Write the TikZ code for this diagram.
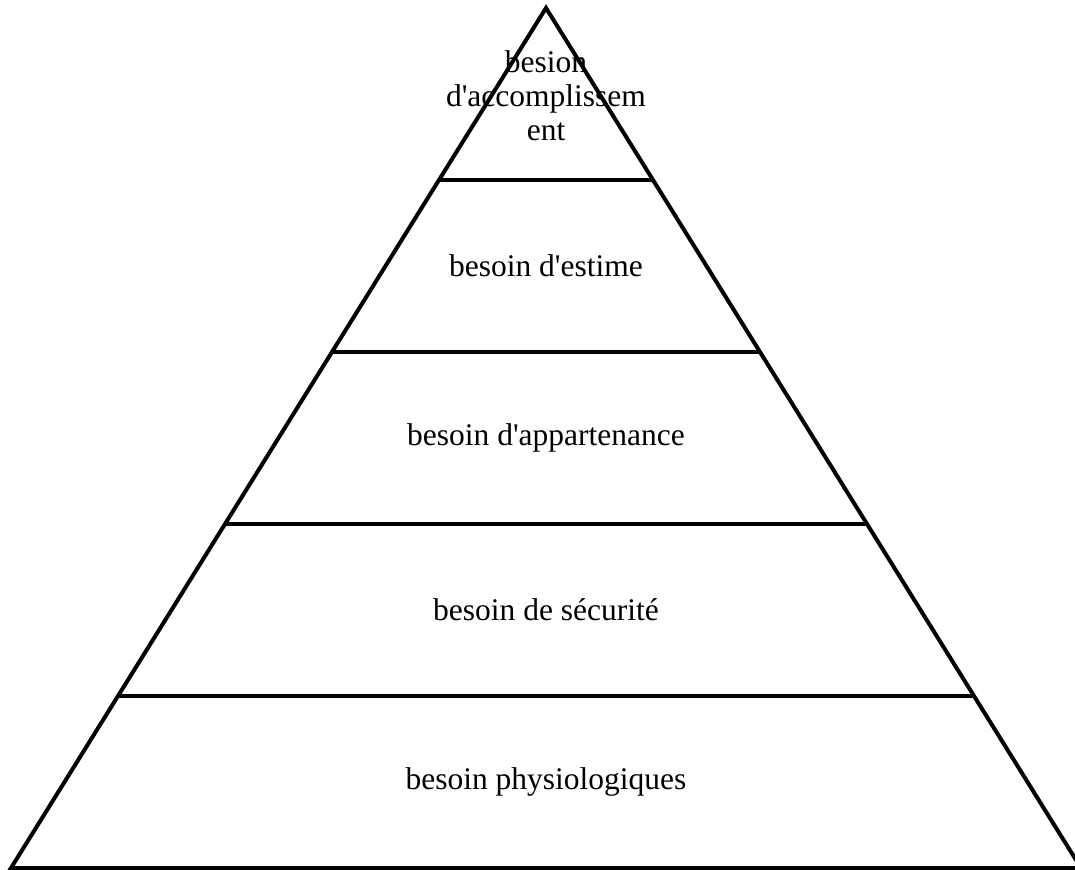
\documentclass[tikz,border=0pt]{standalone}
\usepackage{fontspec}
\setmainfont{Liberation Serif}
\usetikzlibrary{calc}

\begin{document}
\begin{tikzpicture}[x=0.5pt,y=-0.5pt,line width=2pt,
  niveau/.style={font=\fontsize{15.75}{17}\selectfont,align=center}]
  \useasboundingbox (0,0) rectangle (1075,870);
  \coordinate(top) at (546,8);
  \coordinate(left) at (11,868);
  \coordinate(right) at (1081,868);
  \draw (left) -- (top) -- (right) -- cycle;
  \foreach \f in {0.2,0.4,0.6,0.8}
    \draw ($(top)!\f!(left)$) -- ($(top)!\f!(right)$);
  \node(accomplissement) [niveau] at (546,96) {besion\\d\textquotesingle accomplissem\\ent};
  \node(estime) [niveau] at (546,266) {besoin d\textquotesingle estime};
  \node(appartenance) [niveau] at (546,438) {besoin d\textquotesingle appartenance};
  \node(securite) [niveau] at (546,610) {besoin de sécurité};
  \node(physio) [niveau] at (546,782) {besoin physiologiques};
\end{tikzpicture}
\end{document}
